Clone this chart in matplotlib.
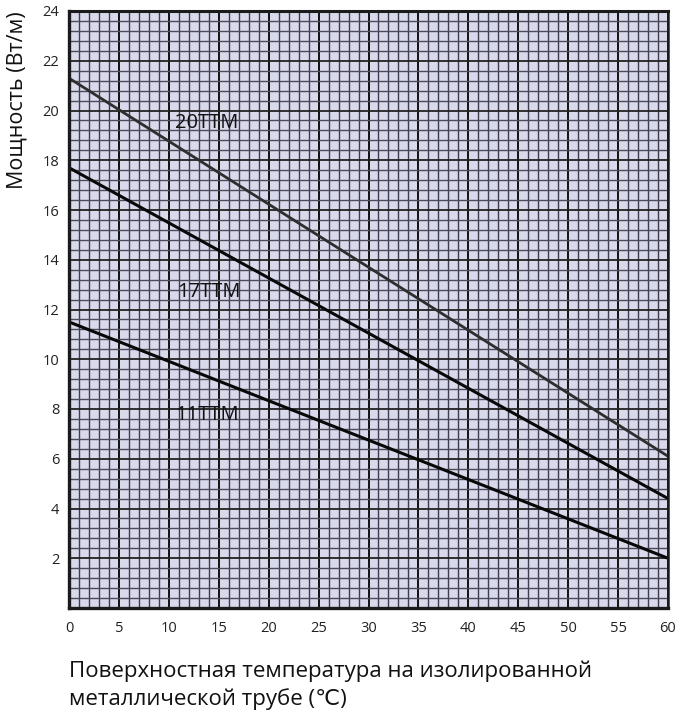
import numpy as np
import matplotlib.pyplot as plt
from matplotlib.ticker import MultipleLocator

plt.rcParams['font.family'] = ['Open Sans', 'DejaVu Sans']

# data
temp = [0, 30, 60]
p_20ttm = [21.3, 13.7, 6.1]
p_17ttm = [17.7, 11.05, 4.4]
p_11ttm = [11.5, 6.75, 2.0]

series_names = ['20TTM', '17TTM', '11TTM']
label_pos = [(10.6, 19.5), (10.8, 12.7), (10.6, 7.75)]

yticks = list(range(2, 25, 2))
xticks = list(range(0, 61, 5))

fig = plt.figure(figsize=(6.77, 7.20), dpi=100)
ax = fig.add_axes([69 / 677, 1 - 608 / 720, (668 - 69) / 677, (608 - 11) / 720])
ax.set_facecolor('#d9d9ec')

ax.set_xlim(0, 60)
ax.set_ylim(0, 24)

ax.xaxis.set_minor_locator(MultipleLocator(1))
ax.yaxis.set_minor_locator(MultipleLocator(0.4))
ax.set_xticks(xticks)
ax.set_yticks(yticks)

ax.grid(which='minor', axis='x', color='#3c3c4c', lw=1.0)
ax.grid(which='minor', axis='y', color='#4a4a58', lw=1.0)
ax.grid(which='major', axis='x', color='#111111', lw=1.4)
ax.grid(which='major', axis='y', color='#222222', lw=1.3)
ax.set_axisbelow(True)

ax.tick_params(which='both', length=0)
ax.tick_params(axis='x', labelsize=10.5, pad=9, colors='#222222')
ax.tick_params(axis='y', labelsize=10.5, pad=7, colors='#222222')

for side, w in [('left', 2.4), ('bottom', 2.4), ('top', 2.2), ('right', 1.8)]:
    ax.spines[side].set_linewidth(w)
    ax.spines[side].set_color('#1a1a1a')

ax.plot(temp, p_20ttm, color='#2e2e2e', lw=2.0, solid_capstyle='butt')
ax.plot(temp, p_17ttm, color='#080808', lw=2.2, solid_capstyle='butt')
ax.plot(temp, p_11ttm, color='#080808', lw=2.2, solid_capstyle='butt')

for name, (lx, ly) in zip(series_names, label_pos):
    ax.text(lx, ly, name, fontsize=14.5, color='#111111', ha='left', va='center')

fig.text(17 / 677, 1 - 11 / 720, 'Мощность (Вт/м)', rotation=90,
         ha='center', va='top', fontsize=15.5, color='#111111')

fig.text(69 / 677, 1 - 661 / 720,
         'Поверхностная температура на изолированной\nметаллической трубе (℃)',
         ha='left', va='top', fontsize=16.0, color='#111111', linespacing=1.32)

fig.savefig('out.png', dpi=100)
